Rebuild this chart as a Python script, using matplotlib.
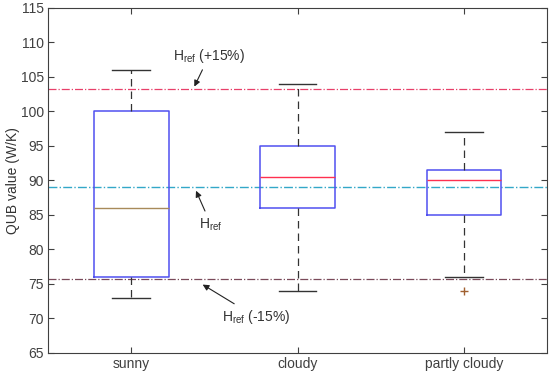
import matplotlib
matplotlib.use("Agg")
import matplotlib.pyplot as plt

plt.rcParams["font.family"] = ["Liberation Sans", "DejaVu Sans"]
plt.rcParams["mathtext.fontset"] = "custom"
plt.rcParams["mathtext.rm"] = "Liberation Sans"

categories = ["sunny", "cloudy", "partly cloudy"]
q1 = [76, 86, 85]
med = [86, 90.5, 90]
q3 = [100, 95, 91.5]
wlo = [73, 74, 76]
whi = [106, 104, 97]
fliers = [[], [], [74]]
href = 89.0
href_hi = 103.2
href_lo = 75.7
median_colors = ["#a88a5a", "#ff3050", "#ff3050"]

stats = []
for i, c in enumerate(categories):
    stats.append(dict(label=c, q1=q1[i], med=med[i], q3=q3[i],
                      whislo=wlo[i], whishi=whi[i], fliers=fliers[i]))

fig = plt.figure(figsize=(5.5, 3.77), dpi=100)
ax = fig.add_axes([0.087, 0.064, 0.908, 0.915])

bp = ax.bxp(stats, positions=[1, 2, 3], widths=0.45, showfliers=True,
            boxprops=dict(color="#5050f0", linewidth=1.1),
            whiskerprops=dict(color="#333333", linestyle=(0, (6, 4)), linewidth=0.9),
            capprops=dict(color="#333333", linewidth=1.0),
            medianprops=dict(linewidth=1.0),
            flierprops=dict(marker="+", markeredgecolor="#a06030", markersize=6, linestyle="none"),
            capwidths=0.225)
for m, col in zip(bp["medians"], median_colors):
    m.set_color(col)

ax.axhline(href_hi, color="#e8406a", linestyle="-.", linewidth=0.9, zorder=0)
ax.axhline(href, color="#33a8c8", linestyle="-.", linewidth=1.0, zorder=0)
ax.axhline(href_lo, color="#7a4a5a", linestyle="-.", linewidth=0.9, zorder=0)

ax.set_xlim(0.5, 3.5)
ax.set_ylim(65, 115)
ax.set_yticks(range(65, 116, 5))
ax.set_xticks([1, 2, 3])
ax.set_xticklabels(categories)
ax.tick_params(direction="in", top=True, right=True, labelsize=10, colors="#404040",
               length=4, pad=3)
for s in ax.spines.values():
    s.set_color("#404040")
    s.set_linewidth(0.8)
ax.set_ylabel("QUB value (W/K)", fontsize=10, color="#333333")
ax.yaxis.set_label_coords(-0.056, 0.5)

arrow = dict(arrowstyle="-|>", color="#222222", lw=0.8, mutation_scale=9, shrinkA=2, shrinkB=0)
ax.annotate(r"H$_{\mathregular{ref}}$ (+15%)", xy=(1.38, 103.6), xytext=(1.47, 108.1),
            fontsize=10, color="#333333", ha="center", va="center", arrowprops=arrow)
ax.annotate(r"H$_{\mathregular{ref}}$", xy=(1.39, 88.5), xytext=(1.48, 83.6),
            fontsize=10, color="#333333", ha="center", va="center", arrowprops=arrow)
ax.annotate(r"H$_{\mathregular{ref}}$ (-15%)", xy=(1.43, 74.9), xytext=(1.75, 70.2),
            fontsize=10, color="#333333", ha="center", va="center", arrowprops=arrow)

fig.savefig("out.png", dpi=100)
